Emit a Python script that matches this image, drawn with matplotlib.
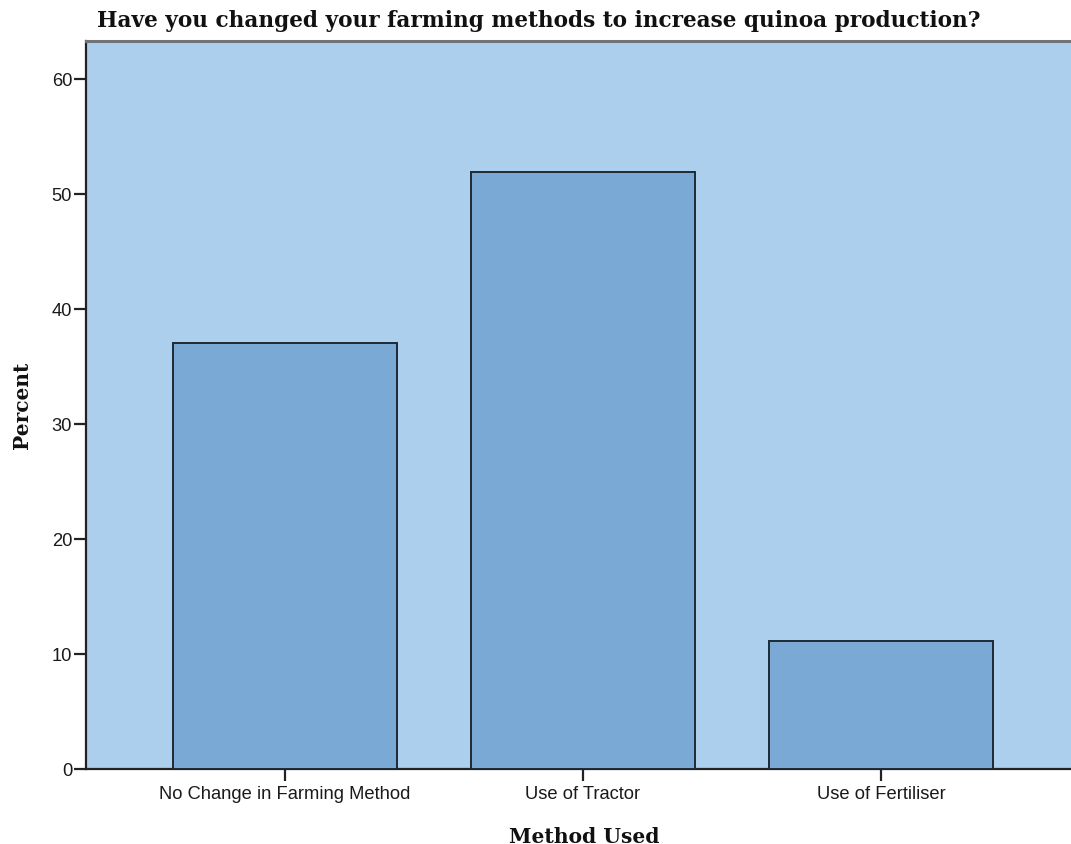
import matplotlib
matplotlib.use("Agg")
import matplotlib.pyplot as plt

categories = ["No Change in Farming Method", "Use of Tractor", "Use of Fertiliser"]
percent = [37.0, 51.9, 11.1]
yticks = [0, 10, 20, 30, 40, 50, 60]

W, H = 1071, 845
fig = plt.figure(figsize=(W / 100, H / 100), dpi=100)
ax = fig.add_axes([86 / W, (H - 770) / H, 1 - 86 / W, (770 - 42) / H])

ax.set_facecolor("#ADCFEE")
x = range(len(categories))
ax.bar(x, percent, width=0.75, color="#7BA9D6", edgecolor="#1E2A35", linewidth=1.4, zorder=3)

ax.set_xlim(-0.668, 2.638)
ax.set_ylim(0, 63.3)
ax.set_yticks(yticks)
ax.set_xticks(list(x))
ax.set_xticklabels(categories)

for lab in ax.get_xticklabels() + ax.get_yticklabels():
    lab.set_fontfamily("Liberation Sans")
    lab.set_fontsize(13.2)
    lab.set_color("#1a1a1a")

ax.tick_params(axis="both", direction="out", length=8.5, width=1.6, color="#222222")
ax.tick_params(axis="x", pad=3)
ax.tick_params(axis="y", pad=1.5)

for side in ("left", "bottom"):
    ax.spines[side].set_color("#222222")
    ax.spines[side].set_linewidth(1.6)
ax.spines["top"].set_color("#707478")
ax.spines["top"].set_linewidth(2.2)
ax.spines["right"].set_visible(False)

serif = dict(fontfamily="DejaVu Serif", fontweight="bold", color="#111111")
fig.text(584 / W, 1 - 837 / H, "Method Used", ha="center", va="center", fontsize=14.6, **serif)
fig.text(22 / W, 1 - 405 / H, "Percent", ha="center", va="center", rotation=90, fontsize=14.5, **serif)
fig.text(539 / W, 1 - 21 / H, "Have you changed your farming methods to increase quinoa production?",
         ha="center", va="center", fontsize=15.6, **serif)

fig.savefig("out.png", dpi=100)
